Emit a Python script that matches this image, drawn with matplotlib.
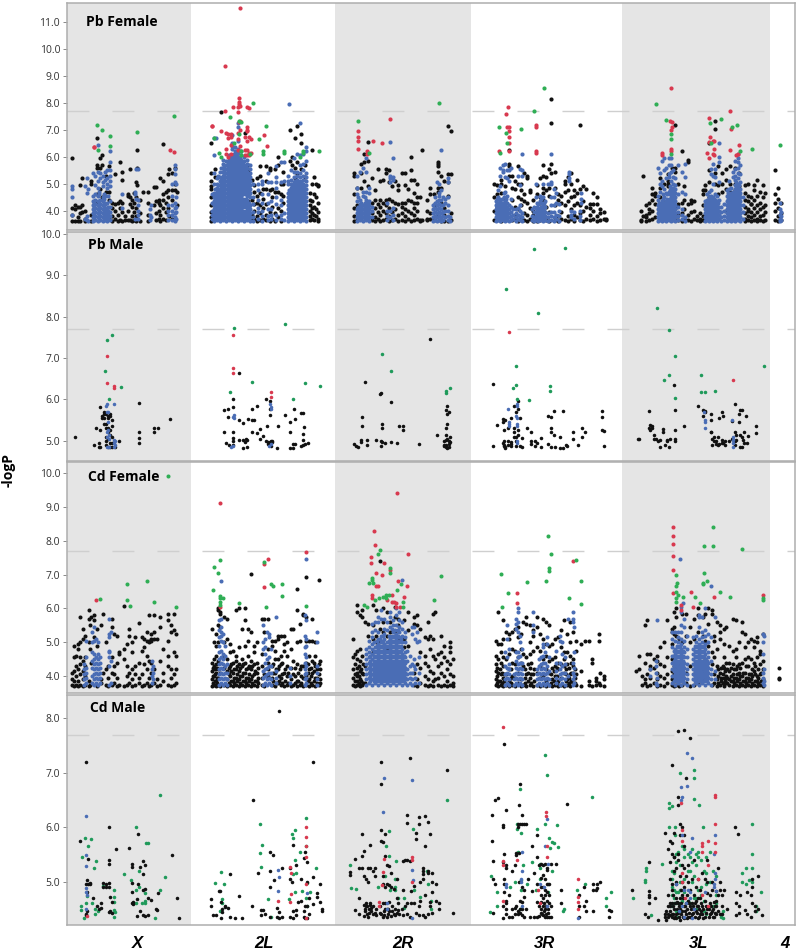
import matplotlib
matplotlib.use("Agg")
import matplotlib.pyplot as plt

plt.rcParams["font.family"] = ["Open Sans", "DejaVu Sans"]

# x is the position along the genome (arbitrary units), y is -logP
# every list holds (position, [values at that position])

# ---- Pb Female
pbf_black = [
    (72, [3.6, 3.85, 4.1, 5.97]), (75, [3.6, 4.05, 4.2]), (78, [3.6, 3.75, 4.15]), (80, [3.6, 3.9, 4.15, 4.95]),
    (82, [3.95, 4.2, 5.2]), (85, [3.6, 3.7, 4.0]), (91, [3.6, 3.85, 5.0, 5.1]), (97, [4.3, 4.6, 5.6, 5.7, 6.7]),
    (100, [4.8, 5.6, 5.97]), (102, [4.5, 5.7, 6.05]), (106, [4.7, 5.3]), (109, [3.7, 4.4, 4.7, 5.65]),
    (112, [3.6, 3.8, 4.1, 4.3]), (115, [3.7, 4.0, 4.25, 5.35]), (118, [3.6, 3.85, 4.3]), (120, [3.65, 4.1, 4.35, 5.8]),
    (122, [3.6, 3.95, 4.3, 5.15, 5.42]), (125, [3.65, 3.8]), (128, [3.65, 4.0, 4.55, 4.6]), (130, [3.65, 4.25, 4.5, 5.55]),
    (132, [3.6, 3.8, 4.15, 4.4]), (134, [3.65, 3.95, 4.3, 4.65]), (136, [3.6, 3.8, 4.1, 4.5, 5.05]),
    (137, [4.95, 5.6, 6.25]), (140, [3.6, 3.9, 4.4]), (143, [4.7]), (148, [3.6, 3.85, 4.3, 4.7]),
    (154, [4.2, 4.87]), (156, [3.65, 3.9, 4.35, 4.87]), (159, [3.7, 4.0, 4.3, 4.4]), (160, [3.6, 3.85, 4.2, 5.2]),
    (163, [3.7, 4.1, 4.4, 4.6, 5.1, 6.48]), (166, [3.65, 3.95, 4.3, 4.7]), (168, [4.1, 4.5, 4.75, 5.35]),
    (169, [3.8, 5.55]), (172, [3.7, 4.4, 4.75, 5.4]), (175, [4.75, 5.0, 5.6]), (177, [4.2, 4.7]),
    (211, [3.6, 3.75, 3.95, 4.2, 4.5, 4.8, 4.9, 5.1, 5.4, 6.5]), (215, [4.1, 5.25, 5.55]), (221, [7.67]),
    (245, [6.88]), (248, [5.5, 5.7, 3.9, 4.35]), (252, [3.65, 3.85, 4.4, 5.15]), (254, [3.7, 4.0, 4.25, 4.7, 4.95]),
    (257, [3.6, 3.8, 4.3, 4.55, 5.2]), (260, [3.65, 3.9, 4.2, 4.65, 5.3, 5.65]), (263, [3.7, 4.1, 4.45, 4.8]),
    (266, [3.65, 3.85, 4.25, 4.8, 5.1, 5.65]), (270, [3.6, 3.95, 4.75, 5.5, 5.6]), (272, [3.7, 4.15, 4.5, 4.8]),
    (275, [3.6, 3.9, 4.7, 5.55]), (278, [3.75, 4.1, 4.7, 5.7, 6.0]), (281, [3.6, 4.0, 4.6, 5.0]),
    (283, [4.3, 4.55, 5.0, 5.45]), (290, [5.85, 7.0]), (292, [5.7, 6.0]), (295, [5.6, 5.2, 6.7]),
    (297, [5.35, 5.8, 7.15]), (301, [5.55, 6.5, 6.85]), (305, [5.25, 5.7]), (310, [3.65, 3.8, 4.0, 4.2, 4.4, 4.65]),
    (312, [3.7, 3.9, 4.1, 4.35, 5.0, 6.25]), (314, [3.65, 3.85, 4.15, 4.6, 5.25]), (316, [3.8, 4.05, 4.5, 5.0]),
    (318, [3.6, 3.7, 3.95, 4.3, 4.9, 4.95]),
    (354, [3.6, 3.8, 4.1, 4.6, 5.3, 5.4]), (357, [3.65, 4.2, 4.85]), (361, [4.85, 5.75, 5.4]), (364, [5.1, 5.8, 6.1]),
    (368, [4.9, 6.55, 5.85]), (372, [3.65, 3.9, 4.3, 5.2]), (375, [3.6, 3.75, 4.1, 4.4, 4.75]),
    (378, [3.7, 3.95, 4.25, 5.55]), (380, [3.6, 3.85, 4.15, 4.4, 5.1]), (383, [3.65, 4.0, 4.3, 5.15]),
    (386, [3.7, 3.9, 4.2, 4.4, 5.55, 5.4]), (389, [3.6, 3.8, 4.1, 4.45, 5.05, 5.5]), (392, [3.65, 3.95, 4.35, 4.9]),
    (395, [3.7, 4.05, 4.3, 5.1]), (398, [3.6, 3.85, 4.25, 4.75, 4.95]), (402, [3.65, 3.9, 4.15, 4.3, 5.4]),
    (405, [3.6, 3.8, 4.05, 4.3, 4.95, 5.4]), (408, [3.7, 4.0, 4.4, 4.8]), (411, [3.6, 3.9, 4.35, 5.15, 6.0, 5.5]),
    (414, [3.65, 3.85, 4.1, 4.3, 4.65, 5.15]), (417, [3.7, 4.0, 4.3, 4.5, 5.0]), (420, [3.6, 3.65, 4.5]),
    (422, [3.65, 6.25]), (427, [3.65, 3.7, 4.0, 4.4]), (430, [3.7, 3.9, 4.6, 4.85]), (434, [3.65, 4.2, 4.6]),
    (438, [3.8, 4.7, 5.45, 5.75, 5.8, 5.65, 4.85]), (441, [3.6, 4.3, 4.85, 5.3]), (444, [3.6, 3.85, 4.1, 5.1]),
    (448, [3.6, 4.55, 5.05, 5.35, 7.15]), (451, [3.65, 3.9, 5.35, 6.95]),
    (494, [3.65, 4.0, 4.5, 5.0]), (497, [3.7, 4.15, 4.6, 4.95]), (501, [3.6, 3.95, 4.65, 5.0, 5.15]),
    (505, [4.45, 4.9]), (509, [5.3, 5.65, 5.75, 6.25]), (512, [3.65, 4.4, 4.85, 5.3]), (515, [3.7, 3.85, 4.15, 4.8, 5.1]),
    (518, [3.6, 4.05, 4.5, 5.0, 5.65]), (521, [3.7, 4.2, 4.45, 4.75, 5.0]), (524, [3.65, 3.9, 4.35, 4.6, 5.4]),
    (527, [3.6, 3.85, 4.3, 5.3, 5.2]), (530, [3.7, 4.1, 4.7, 4.75]), (533, [3.6, 3.85, 4.0, 4.4]),
    (537, [3.6, 3.75, 4.1, 4.6, 4.95]), (540, [3.65, 3.9, 4.3, 4.5, 5.2]), (543, [3.7, 4.0, 4.4, 4.65, 4.85, 5.3, 5.7]),
    (546, [3.65, 4.15, 4.75, 5.25]), (549, [3.6, 3.95, 4.55, 4.85, 5.55]), (551, [5.75, 5.4, 7.25, 8.15]),
    (555, [3.65, 4.2, 4.85, 5.45]), (558, [3.6, 3.8, 4.4, 4.6]), (561, [3.7, 3.95, 4.3, 4.55]),
    (565, [3.65, 4.2, 4.7, 5.0, 5.1]), (568, [3.6, 3.8, 4.35, 4.75, 5.25]), (571, [3.7, 4.05, 4.5, 5.0, 5.4]),
    (574, [3.6, 3.85, 4.2, 4.55, 4.75]), (577, [3.75, 4.3, 4.65, 5.15]), (580, [3.65, 3.9, 4.2, 4.8, 7.2]),
    (583, [3.6, 4.0, 4.35, 4.9]), (586, [3.7, 4.15, 4.8]), (590, [3.65, 3.85, 4.1, 4.25]), (593, [3.7, 4.0, 4.25, 4.65]),
    (597, [3.6, 3.8, 4.25, 4.5]), (600, [3.65, 3.9, 4.05]), (604, [3.7, 3.95]), (606, [3.65, 3.7]),
    (641, [3.6, 3.65, 4.0]), (643, [3.8, 5.3]), (646, [3.6, 3.75, 3.85, 4.2]), (649, [3.65, 3.9, 4.3, 4.05]),
    (652, [3.7, 4.0, 4.4, 4.6, 4.85]), (655, [3.75, 4.55, 4.25, 4.65]), (660, [4.5, 4.85, 5.2]), (664, [4.3, 5.0]),
    (668, [4.9, 5.0, 5.1, 5.35]), (672, [5.6, 4.7, 4.3]), (675, [3.7, 4.1, 5.6, 5.45, 7.2]), (678, [3.65, 3.85, 4.25, 5.0]),
    (682, [3.6, 3.9, 4.3, 6.23]), (684, [3.7, 4.05, 4.4, 4.9]), (688, [3.65, 3.85, 4.25, 5.9, 5.8]),
    (691, [3.6, 3.95, 4.3, 4.4]), (694, [3.7, 4.0, 4.35]), (697, [3.65, 3.8]), (700, [3.6, 3.7, 3.9]),
    (703, [3.65, 3.8, 4.2, 4.6, 4.75]), (705, [4.75, 4.95]), (709, [6.5, 5.5, 5.05, 4.5]), (715, [7.35, 7.05, 5.4, 5.0]),
    (718, [5.65, 4.95, 4.6]), (722, [5.4, 5.0, 4.7]), (726, [5.55, 5.15, 4.8, 4.0]), (730, [5.65, 5.0, 4.7]),
    (735, [5.0, 5.6, 4.75, 3.75]), (739, [4.9, 5.4, 4.6]), (745, [3.6, 3.7, 3.9, 4.15, 4.4, 4.65, 4.95]),
    (748, [3.65, 3.8, 4.05, 4.35, 4.55, 5.0, 4.0]), (751, [3.6, 3.75, 3.95, 4.25, 4.5, 4.25]), (754, [3.65, 3.85, 4.1, 4.4, 4.75, 4.95]),
    (757, [3.6, 3.7, 3.95, 4.2, 4.55, 5.15]), (760, [3.65, 3.8, 4.05, 4.3, 4.7]), (763, [3.6, 3.85, 4.15, 4.5, 4.95]),
    (765, [3.65, 3.95, 4.2, 4.65]),
    (775, [3.65, 4.0, 4.3, 4.6, 5.5]), (778, [3.6, 3.8, 4.1, 4.45, 4.85]), (781, [3.65, 3.9, 4.3]),
]
pbf_blue = [
    (72, [3.85, 4.5, 4.8, 4.9]), (85, [3.7, 4.9]), (87, [3.65, 3.8, 5.2, 4.65]), (88, [3.6, 4.8]),
    (93, [3.6, 3.75, 3.9, 4.05, 4.2, 4.35, 4.55, 5.4]), (95, [3.65, 3.8, 3.95, 4.1, 4.25, 4.4, 4.6, 4.95, 5.3]),
    (98, [3.6, 3.75, 3.9, 4.05, 4.2, 4.35, 4.55, 4.85, 5.1, 5.45, 6.45]), (100, [3.65, 3.8, 3.95, 4.1, 4.25, 4.4, 5.2, 5.4]),
    (103, [3.6, 3.75, 3.9, 4.05, 4.2, 4.35, 4.5, 4.9, 5.05, 5.3]), (105, [3.65, 3.8, 3.95, 4.1, 4.25, 4.55, 5.15, 5.45]),
    (107, [3.6, 3.75, 3.9, 4.05, 4.3, 4.85, 5.0, 5.2, 5.5]), (110, [3.65, 3.8, 3.95, 4.15, 4.35, 4.9, 5.1, 5.3, 5.5, 5.8, 6.2]),
    (122, [4.6, 4.1]), (135, [4.6, 4.7, 3.7]), (136, [5.55, 4.45]), (138, [3.7, 3.85, 4.0, 4.2, 4.4, 5.55]),
    (150, [3.65, 3.85, 4.05]), (151, [3.75, 4.2]), (168, [3.65, 3.85, 4.0, 4.2]), (172, [3.65, 3.85, 4.0, 4.2, 4.55, 5.0]),
    (175, [3.6, 3.75, 3.9, 4.1, 4.3, 5.05, 5.35, 5.55, 5.7]), (176, [3.7, 3.95, 4.15, 4.5, 5.0]),
    (214, [3.6, 3.75, 3.9, 4.05, 4.2, 4.35, 4.5, 4.65, 5.4, 5.0]),
    (217, [3.65, 3.8, 3.95, 4.1, 4.25, 4.4, 4.55, 4.7, 4.85, 5.0, 5.2]),
    (220, [3.6, 3.75, 3.9, 4.05, 4.2, 4.35, 4.5, 4.65, 4.8, 4.95, 5.1, 5.25, 5.45]),
    (223, [3.65, 3.8, 3.95, 4.1, 4.25, 4.4, 4.55, 4.7, 4.85, 5.0, 5.15, 5.3, 5.45, 5.6, 5.75, 5.9]),
    (226, [3.6, 3.75, 3.9, 4.05, 4.2, 4.35, 4.5, 4.65, 4.8, 4.95, 5.1, 5.25, 5.4, 5.55, 5.7, 5.85]),
    (229, [3.65, 3.8, 3.95, 4.1, 4.25, 4.4, 4.55, 4.7, 4.85, 5.0, 5.15, 5.3, 5.45, 5.6, 5.75, 5.9, 6.05]),
    (232, [3.6, 3.75, 3.9, 4.05, 4.2, 4.35, 4.5, 4.65, 4.8, 4.95, 5.1, 5.25, 5.4, 5.55, 5.7, 5.85, 6.05, 6.3, 6.5]),
    (235, [3.65, 3.8, 3.95, 4.1, 4.25, 4.4, 4.55, 4.7, 4.85, 5.0, 5.15, 5.3, 5.45, 5.6, 5.75, 5.9, 6.05, 6.2, 6.35]),
    (238, [3.6, 3.75, 3.9, 4.05, 4.2, 4.35, 4.5, 4.65, 4.8, 4.95, 5.1, 5.25, 5.4, 5.55, 5.7, 5.85, 6.0, 6.15, 6.3, 6.6, 7.1, 7.25]),
    (241, [3.65, 3.8, 3.95, 4.1, 4.25, 4.4, 4.55, 4.7, 4.85, 5.0, 5.15, 5.3, 5.45, 5.6, 5.75, 5.9, 6.05, 6.2]),
    (244, [3.6, 3.75, 3.9, 4.2, 4.35, 4.65, 4.8, 4.95, 5.1, 5.25, 5.4, 5.55, 5.7, 5.85, 6.0]),
    (247, [3.65, 3.8, 3.95, 4.1, 4.25, 4.4, 4.55, 4.7, 4.85, 5.0, 5.15, 5.3, 5.45, 5.6, 5.75, 5.9]),
    (250, [3.6, 3.75, 3.9, 4.05, 4.2, 4.5, 4.65, 4.8, 4.95, 5.1, 5.25, 5.4, 5.55, 5.7]),
    (253, [3.6, 3.75, 3.95, 4.25, 4.5, 5.0]), (258, [3.7, 3.95, 4.1, 4.4, 4.75, 5.0]), (262, [3.6, 3.8, 4.0, 4.3, 4.6, 5.0, 5.1]),
    (268, [3.65, 3.8, 4.05, 4.3, 4.6, 5.05, 5.4]), (271, [3.7, 3.85, 4.05, 4.35, 5.05]), (276, [3.65, 3.85, 4.25, 4.5, 4.85, 5.05, 5.25, 5.65]),
    (281, [3.7, 3.85, 4.2, 4.4, 5.05, 5.8]), (284, [3.65, 3.9, 5.1, 5.8]),
    (288, [3.6, 3.75, 3.9, 4.05, 4.2, 4.35, 4.5, 4.65, 5.1, 5.0, 5.3]),
    (291, [3.65, 3.8, 3.95, 4.1, 4.25, 4.4, 4.55, 4.7, 4.85, 5.0, 5.15, 5.5]),
    (294, [3.6, 3.75, 3.9, 4.05, 4.2, 4.35, 4.5, 4.65, 4.8, 4.95, 5.05, 5.25, 5.45, 5.95]),
    (297, [3.65, 3.8, 3.95, 4.1, 4.25, 4.4, 4.55, 4.7, 4.85, 5.0, 5.15, 5.3, 5.45, 6.1]),
    (300, [3.6, 3.75, 3.9, 4.05, 4.2, 4.35, 4.5, 4.65, 4.8, 4.95, 5.1, 5.25, 5.4, 5.7, 6.05, 7.25]),
    (303, [3.65, 3.8, 3.95, 4.1, 4.25, 4.4, 4.55, 4.7, 4.85, 5.0, 5.15, 5.3, 5.5, 5.75, 6.1]),
    (306, [3.6, 3.75, 3.9, 4.05, 4.2, 4.35, 4.5, 4.65, 4.8, 4.95, 5.1, 5.25, 5.4, 5.85, 6.35, 6.2]),
    (289, [7.97]), (214, [6.05, 6.7]), (216, [6.7]), (232, [6.8, 6.4]),
    (357, [3.6, 3.75, 3.9, 4.05, 4.35, 4.6, 4.85, 5.3]), (360, [3.65, 3.8, 3.95, 4.1, 4.25, 4.4, 5.45]),
    (363, [3.6, 3.75, 3.9, 4.05, 4.2, 4.55, 4.7, 5.6]), (366, [3.65, 3.8, 3.95, 4.1, 4.25, 4.4, 4.7, 5.45, 5.95]),
    (369, [3.6, 3.75, 3.9, 4.05, 4.2, 4.35, 4.65, 4.85]), (372, [3.75, 4.0, 4.15]), (387, [3.65, 3.8, 4.0, 4.3]),
    (390, [3.75, 4.0, 5.2, 5.05, 5.3, 6.55]), (393, [3.65, 3.85, 4.1, 5.15, 5.25, 5.95]),
    (433, [3.6, 3.75, 3.9, 4.05, 4.2]), (435, [3.65, 3.8, 3.95, 4.1, 4.3, 4.5]), (437, [3.6, 3.75, 3.9, 4.05, 4.2, 4.35, 5.05]),
    (439, [3.65, 3.8, 3.95, 4.1, 4.25, 4.4, 4.55, 4.65, 5.0]), (441, [3.6, 3.75, 3.9, 4.05, 4.2, 4.4, 4.75, 6.25]),
    (443, [3.65, 3.8, 3.95, 4.2, 4.5]), (445, [3.75, 4.0, 4.3, 4.45]), (448, [3.65, 3.8, 4.0, 4.2, 4.5, 5.05, 5.2]), (450, [3.6, 3.75]),
    (496, [3.6, 3.75, 3.9, 4.05, 4.2, 4.35]), (498, [3.65, 3.8, 3.95, 4.1, 4.3, 4.5, 4.75]),
    (500, [3.6, 3.75, 3.9, 4.05, 4.2, 4.4, 4.9, 5.3, 5.6]), (503, [3.65, 3.8, 3.95, 4.1, 4.25, 5.45, 5.7, 5.5]),
    (505, [3.6, 3.75, 3.9, 4.05, 4.2, 4.35, 4.7, 5.25, 5.75]), (507, [3.65, 3.8, 3.95, 4.1, 4.3, 4.55, 5.2, 5.5]),
    (509, [3.6, 3.75, 3.9, 4.05, 4.2, 5.1, 5.5]), (511, [3.65, 3.8, 3.95, 4.15, 4.45, 5.6]),
    (513, [3.7, 3.85, 4.05]), (516, [3.6, 3.75, 3.9, 4.05]), (518, [3.7, 3.85, 4.1, 5.3]), (520, [3.65, 3.8, 4.0, 4.2, 4.95, 5.55]),
    (522, [3.6, 3.75, 3.9, 5.5, 6.1, 5.3]), (532, [3.65, 3.8, 4.05]), (534, [3.6, 3.75, 3.95, 4.15]),
    (536, [3.65, 3.8, 3.95, 4.1, 4.5, 5.0]), (538, [3.6, 3.75, 3.9, 4.05, 4.25]), (540, [3.65, 3.8, 3.95, 4.1, 4.35, 4.55]),
    (543, [3.6, 3.75, 3.9, 4.05, 4.2, 4.5, 5.0]), (545, [3.65, 3.8, 3.95, 4.15, 4.35]), (548, [3.6, 3.75, 3.9, 5.0]),
    (551, [3.65, 3.8, 3.95, 4.2, 4.5, 5.0, 5.05, 6.1]), (554, [3.6, 3.75, 3.95, 4.2, 4.5, 4.8]), (556, [3.7, 3.85, 4.3, 4.65]),
    (559, [3.6, 3.8, 4.0, 4.25]), (569, [5.45, 5.35, 5.2, 5.1]), (571, [3.75, 3.85, 4.0]), (574, [3.7, 3.95]),
    (580, [3.65, 3.8, 4.0]), (581, [4.45, 4.3, 4.65]),
    (658, [3.6, 3.75, 3.9, 4.05, 4.2, 4.4, 4.55, 5.6]), (660, [3.65, 3.8, 3.95, 4.1, 4.25, 4.7, 5.4, 5.0]),
    (662, [3.6, 3.75, 3.9, 4.05, 4.2, 4.35, 4.9, 5.1, 5.85]), (664, [3.65, 3.8, 3.95, 4.1, 4.25, 4.5, 4.8, 5.5, 5.95]),
    (666, [3.6, 3.75, 3.9, 4.05, 4.2, 4.35, 4.65, 5.6, 5.2]), (669, [3.65, 3.8, 3.95, 4.1, 4.25, 4.4, 4.7, 5.35, 5.25, 5.95, 5.7]),
    (671, [3.6, 3.75, 3.9, 4.05, 4.2, 4.35, 4.5, 4.65, 4.8, 5.1, 5.45, 5.7, 5.95]),
    (673, [3.65, 3.8, 3.95, 4.1, 4.25, 4.4, 4.55, 4.7, 4.85, 5.0, 5.25, 5.5]),
    (675, [3.6, 3.75, 3.9, 4.05, 4.2, 4.35, 4.5, 4.65, 4.8, 4.95, 5.2]), (678, [3.65, 3.8, 3.95, 4.15, 4.6, 5.7]),
    (682, [3.7, 3.85, 4.05, 4.7, 5.45]), (685, [3.6, 3.75, 4.6, 5.25, 5.75]), (705, [3.6, 3.75, 3.9, 4.05, 4.2, 4.35]),
    (707, [3.65, 3.8, 3.95, 4.1, 4.25, 4.4, 4.6]), (709, [3.6, 3.75, 3.9, 4.05, 4.2, 4.35, 4.5, 4.7]),
    (711, [3.65, 3.8, 3.95, 4.1, 4.25, 4.4, 4.55, 4.75, 5.35, 5.55]), (713, [3.6, 3.75, 3.9, 4.05, 4.2, 4.35, 4.5, 5.0, 5.3, 5.75]),
    (715, [3.65, 3.8, 3.95, 4.1, 4.25, 4.4, 4.6, 5.25, 5.55]), (717, [3.6, 3.75, 3.9, 4.05, 4.2, 4.35, 4.55]),
    (719, [3.7, 3.85, 4.0, 4.4, 5.8, 6.0, 6.5, 5.05]), (721, [3.6, 3.75, 3.95, 4.15]), (724, [3.65, 3.8, 4.0, 4.25]),
    (727, [3.6, 3.75, 3.9, 4.05, 4.2, 4.35, 4.55, 4.75]), (729, [3.65, 3.8, 3.95, 4.1, 4.25, 4.4, 4.55, 4.8, 5.1]),
    (731, [3.6, 3.75, 3.9, 4.05, 4.2, 4.35, 4.5, 4.65, 4.85]), (733, [3.65, 3.8, 3.95, 4.1, 4.25, 4.4, 4.55, 4.7, 5.25, 5.45]),
    (735, [3.6, 3.75, 3.9, 4.05, 4.2, 4.35, 4.5, 4.65, 4.8, 4.95, 5.15, 5.3, 5.55, 5.85]),
    (738, [3.65, 3.8, 3.95, 4.1, 4.25, 4.4, 4.55, 4.7, 4.85, 5.0, 5.2, 5.4, 5.6, 5.8, 5.95, 6.1]),
    (740, [3.6, 3.75, 3.9, 4.05, 4.2, 4.35, 4.5, 4.65, 4.8, 5.05, 5.35, 5.7]), (743, [3.7, 3.95, 4.2, 4.5]),
    (780, [3.6, 3.7, 3.85, 4.05, 4.3]), (781, [3.65, 3.8, 3.95]),
]
# the dense blue peaks need more points between the columns above
pbf_blue_fill = [
    (212, [3.7, 3.85, 4.0, 4.3, 4.6]), (215, [3.7, 3.85, 4.0, 4.15, 4.3, 4.45, 4.6, 4.8]), (218, [3.7, 3.85, 4.0, 4.15, 4.3, 4.45, 4.6, 4.75, 4.95, 5.3]),
    (221, [3.7, 3.85, 4.0, 4.15, 4.3, 4.45, 4.6, 4.75, 4.9, 5.05, 5.2, 5.6]), (224, [3.7, 3.85, 4.0, 4.15, 4.3, 4.45, 4.6, 4.75, 4.9, 5.05, 5.2, 5.35, 5.5, 5.65]),
    (228, [3.7, 3.85, 4.0, 4.15, 4.3, 4.45, 4.6, 4.75, 4.9, 5.05, 5.2, 5.35, 5.5, 5.65, 5.8]), (231, [3.7, 3.85, 4.0, 4.15, 4.3, 4.45, 4.6, 4.75, 4.9, 5.05, 5.2, 5.35, 5.5, 5.65, 5.8, 5.95]),
    (234, [3.7, 3.85, 4.0, 4.15, 4.3, 4.45, 4.6, 4.75, 4.9, 5.05, 5.2, 5.35, 5.5, 5.65, 5.8, 5.95, 6.1]), (237, [3.7, 3.85, 4.0, 4.15, 4.3, 4.45, 4.6, 4.75, 4.9, 5.05, 5.2, 5.35, 5.5, 5.65, 5.8, 5.95, 6.1]),
    (240, [3.7, 3.85, 4.0, 4.15, 4.3, 4.45, 4.6, 4.75, 4.9, 5.05, 5.2, 5.35, 5.5, 5.65, 5.8, 5.95]), (243, [3.7, 3.85, 4.0, 4.15, 4.3, 4.45, 4.6, 4.75, 4.9, 5.05, 5.2, 5.35, 5.5, 5.65, 5.8]),
    (246, [3.7, 3.85, 4.0, 4.15, 4.3, 4.45, 4.6, 4.75, 4.9, 5.05, 5.2, 5.35, 5.5, 5.65]), (249, [3.7, 3.85, 4.0, 4.15, 4.3, 4.6, 4.75, 4.9, 5.05, 5.2, 5.35]),
    (289, [3.7, 3.85, 4.0, 4.15, 4.3, 4.45, 4.6, 4.75]), (292, [3.7, 3.85, 4.0, 4.15, 4.3, 4.45, 4.6, 4.75, 4.9]), (295, [3.7, 3.85, 4.0, 4.15, 4.3, 4.45, 4.6, 4.75, 4.9, 5.1]),
    (298, [3.7, 3.85, 4.0, 4.15, 4.3, 4.45, 4.6, 4.75, 4.9, 5.05]), (301, [3.7, 3.85, 4.0, 4.15, 4.3, 4.45, 4.6, 4.75, 4.9, 5.05]), (304, [3.7, 3.85, 4.0, 4.15, 4.3, 4.45, 4.6, 4.75, 4.9]),
    (94, [3.7, 3.85, 4.0, 4.15, 4.3]), (99, [3.7, 3.85, 4.0, 4.15, 4.3, 4.6, 4.7]), (104, [3.7, 3.85, 4.0, 4.15, 4.3, 4.45, 4.6]), (108, [3.7, 3.85, 4.0, 4.15, 4.55]),
    (358, [3.7, 3.85, 4.0, 4.15, 4.5]), (361, [3.7, 3.85, 4.0, 4.15, 4.3]), (365, [3.7, 3.85, 4.0, 4.15, 4.3, 4.5]), (368, [3.7, 3.85, 4.0, 4.15, 4.3]),
    (497, [3.7, 3.85, 4.0, 4.15, 4.3, 4.45]), (499, [3.7, 3.85, 4.0, 4.15, 4.3, 4.45]), (502, [3.7, 3.85, 4.0, 4.15, 4.3, 4.45]), (504, [3.7, 3.85, 4.0, 4.15, 4.3, 4.5, 4.65]), (506, [3.7, 3.85, 4.0, 4.15, 4.3, 4.45]),
    (537, [3.7, 3.85, 4.0, 4.15, 4.3]), (541, [3.7, 3.85, 4.0, 4.15, 4.3, 4.45]), (544, [3.7, 3.85, 4.0, 4.15, 4.3]),
    (659, [3.7, 3.85, 4.0, 4.15, 4.3]), (663, [3.7, 3.85, 4.0, 4.15, 4.3, 4.45, 4.6]), (667, [3.7, 3.85, 4.0, 4.15, 4.3, 4.45, 4.6]), (670, [3.7, 3.85, 4.0, 4.15, 4.3, 4.45, 4.6, 4.75, 4.9]), (674, [3.7, 3.85, 4.0, 4.15, 4.3, 4.45, 4.6, 4.75]),
    (706, [3.7, 3.85, 4.0, 4.15, 4.3]), (710, [3.7, 3.85, 4.0, 4.15, 4.3, 4.45]), (714, [3.7, 3.85, 4.0, 4.15, 4.3, 4.45]), (718, [3.7, 3.85, 4.0, 4.15, 4.3]),
    (728, [3.7, 3.85, 4.0, 4.15, 4.3, 4.45, 4.65]), (732, [3.7, 3.85, 4.0, 4.15, 4.3, 4.45, 4.6]), (736, [3.7, 3.85, 4.0, 4.15, 4.3, 4.45, 4.6, 4.75, 4.9, 5.05]), (739, [3.7, 3.85, 4.0, 4.15, 4.3, 4.45, 4.6, 4.75, 4.95]),
]
pbf_red = [
    (94, [6.38, 6.35]), (170, [6.25]), (174, [6.17]), (212, [7.15]), (225, [9.37]), (225, [7.7]), (240, [11.55]),
    (212, [7.15]), (221, [6.95]), (226, [6.9, 6.3, 6.1]), (228, [6.7, 6.85, 6.0]), (231, [6.75, 6.85, 6.45, 6.1]),
    (233, [7.85]), (238, [7.65, 7.85, 6.9, 6.65, 6.25]), (239, [8.18, 8.05, 7.95, 7.3]), (240, [7.9, 7.35, 7.0, 6.4]),
    (245, [6.75, 6.25, 6.05]), (247, [7.1, 7.85, 7.0, 6.95, 6.6, 6.25, 6.05]), (249, [7.8, 6.75, 6.15, 6.05]),
    (251, [6.65, 6.15]), (264, [6.8]), (267, [6.4]), (358, [6.95, 6.75, 6.6, 6.3]), (373, [6.6]), (382, [6.5]),
    (367, [6.1, 6.2]), (390, [7.4]),
    (508, [7.85]), (506, [7.6]), (507, [7.1]), (509, [7.1, 6.95, 6.75, 6.5, 6.2]), (499, [6.2]), (536, [7.2, 7.1, 6.2, 6.15]),
    (671, [8.55, 6.3, 6.2]), (670, [7.35]), (672, [7.3, 7.1]), (671, [7.0]), (662, [6.15, 6.05]),
    (709, [7.45, 6.55, 5.95]), (730, [7.7, 6.25]), (731, [7.05]), (710, [6.75]), (713, [6.6, 6.1]), (714, [6.6, 6.3, 6.05]),
    (707, [6.15]), (739, [6.45]), (738, [6.1]), (736, [6.05]),
]
pbf_green = [
    (97, [7.2]), (102, [7.0]), (110, [6.78, 6.42]), (98, [6.25]), (137, [6.93]), (174, [7.52]), (253, [8.0]), (230, [7.5]),
    (214, [6.7]), (219, [6.15]), (221, [6.0]), (234, [6.5]), (239, [7.35, 6.85]), (241, [7.3]), (241, [6.2, 6.05]),
    (250, [6.1]), (259, [6.65]), (266, [7.15]), (263, [6.2, 6.1]), (284, [6.15, 6.2]), (300, [6.0]), (303, [6.2, 6.15]),
    (319, [6.2]), (358, [7.35]), (369, [6.15]), (439, [8.0]),
    (499, [7.1]), (500, [6.15]), (506, [6.9]), (507, [6.5]), (521, [7.05]), (534, [7.7]), (544, [8.55]),
    (656, [7.95]), (666, [7.36]), (671, [6.85, 6.65, 6.1]), (721, [7.4]), (710, [7.25]), (732, [7.1]), (737, [7.2]),
    (711, [6.5]), (740, [6.2]), (752, [6.3]), (780, [6.45]),
]

# ---- Pb Male
pbm_black = [
    (75, [5.1]), (94, [4.9]), (99, [4.95, 4.85]), (96, [5.3]), (100, [5.25, 5.82, 4.85]), (102, [5.6, 5.55]),
    (104, [5.7, 5.65, 5.55, 5.4]), (106, [5.65, 5.4, 5.3, 5.1, 5.0, 4.9]), (108, [5.6, 5.55, 5.3, 5.2, 5.05, 4.85]),
    (110, [5.65, 5.6, 5.25, 5.15, 4.95, 4.85]), (112, [5.5, 5.35, 5.1, 4.95, 4.85]), (119, [5.0]), (115, [4.85]),
    (139, [5.92, 5.2, 5.07, 4.95]), (154, [5.32, 5.22]), (158, [5.3]), (170, [5.52]),
    (224, [5.75, 5.22]), (228, [5.78, 5.58]), (226, [4.95]), (229, [4.9]), (233, [6.0, 5.82, 5.2, 5.07, 5.0, 4.9]),
    (239, [6.65, 5.5, 5.02]), (243, [5.42, 5.02, 4.83]), (245, [4.97]), (247, [5.02, 4.86]), (246, [5.05]), (248, [5.52]),
    (252, [5.77, 5.5, 5.2]), (254, [5.5]), (257, [5.85, 5.18]), (260, [5.28, 5.05]), (263, [5.12]), (266, [6.02, 5.0]),
    (267, [5.35]), (268, [4.93, 4.97]), (270, [5.95, 5.78, 5.62, 4.95, 4.97]), (271, [5.0, 4.88]), (272, [4.97, 5.0]),
    (278, [5.35]), (277, [4.83]), (285, [5.62]), (290, [5.45, 5.2, 4.83]), (293, [4.83, 4.93]), (295, [5.53, 4.93]),
    (294, [5.78]), (301, [5.67, 4.88]), (303, [5.68, 4.9, 5.17, 5.03]), (304, [5.33]), (305, [4.92]), (308, [4.95]),
    (354, [4.92]), (356, [4.88]), (358, [4.85]), (361, [5.03, 4.98]), (362, [5.58, 5.35]), (365, [6.42]), (367, [5.02, 4.9]),
    (376, [5.02]), (381, [6.15, 5.0, 4.87]), (380, [6.13]), (382, [5.4, 5.3, 4.97]), (385, [4.95]), (391, [5.93, 4.96]),
    (399, [5.35]), (397, [4.95]), (403, [5.35, 5.25]), (419, [4.92]), (430, [7.47]), (437, [5.13]), (444, [4.87, 4.9, 5.0]),
    (446, [5.75, 5.3, 5.13, 5.03, 4.85, 4.9]), (447, [5.65, 5.4, 5.05, 4.83, 5.85]), (449, [5.7, 5.0, 4.93, 4.85]), (450, [5.1, 4.97]),
    (493, [6.38, 4.87]), (497, [5.38]), (503, [5.53, 4.95, 5.45]), (504, [5.25, 5.0, 4.9, 4.88]), (505, [5.5, 4.85, 4.83]),
    (508, [5.3, 5.0, 4.9]), (511, [5.55, 4.93, 4.98, 4.87]), (514, [5.85, 5.2, 5.3, 5.1]), (516, [5.7, 5.1, 5.0, 4.88]),
    (518, [5.95, 5.78, 5.25, 5.13]), (520, [5.55, 4.87]), (522, [5.07, 4.85]), (527, [5.3]), (531, [5.2, 5.0, 4.92]),
    (535, [5.0, 4.88]), (537, [4.95]), (541, [5.07, 4.85]), (548, [5.6, 4.93]), (551, [5.58, 5.3, 5.2, 4.85]),
    (554, [5.13, 5.72]), (555, [4.85]), (560, [4.83, 5.1]), (563, [5.72, 4.83]), (566, [4.9]), (567, [4.88]),
    (573, [5.05, 5.2]), (578, [4.9]), (582, [5.1, 5.32]), (585, [5.22]), (602, [5.26, 5.72, 5.57]), (604, [5.24]), (604, [4.88]),
    (638, [5.05]), (639, [5.05]), (649, [5.72, 5.3]), (650, [5.38, 5.25]), (652, [5.35, 5.3]), (654, [5.13, 5.05]), (656, [5.05]),
    (658, [5.0]), (660, [5.03, 4.85]), (663, [5.2, 5.28]), (665, [4.9]), (667, [5.0, 5.03]), (669, [4.85]), (670, [5.05]),
    (675, [5.75, 5.27, 5.05, 5.0]), (674, [6.35]), (684, [5.35]), (698, [5.85]), (703, [5.75, 5.6]), (705, [5.7, 5.72]),
    (711, [5.65, 5.5, 5.22, 5.2]), (712, [5.05, 4.9]), (714, [5.1, 5.0]), (716, [4.93, 5.0]), (718, [5.1, 4.9]),
    (719, [5.55, 4.93]), (722, [5.7, 5.03, 4.95]), (723, [4.95]), (725, [5.0, 4.9]), (729, [5.0]), (723, [5.6]),
    (732, [5.47, 5.05]), (735, [5.9, 5.2, 5.0, 4.9]), (736, [5.15, 5.03]), (739, [5.65, 5.45]), (740, [5.15, 5.75, 4.85]),
    (742, [5.1, 5.75, 4.85]), (743, [5.02]), (744, [5.2, 4.95]), (746, [5.6]), (748, [5.12]), (747, [4.95]), (756, [5.35, 5.18]),
]
pbm_blue = [
    (106, [5.85]), (107, [5.88, 5.7]), (108, [5.7, 5.45, 5.25]), (109, [5.15, 5.05, 4.85]), (114, [5.88, 5.03, 4.95, 4.85]),
    (115, [5.0, 4.9]), (107, [5.2, 5.1, 4.85]), (231, [4.85]), (233, [4.88]), (234, [5.62, 5.55]), (233, [5.58]), (270, [5.88]),
    (271, [5.82, 5.78, 4.93]), (269, [4.88]), (509, [5.45, 5.4, 5.35]), (508, [5.78]), (517, [5.9, 5.85, 5.55, 5.4, 5.35, 5.0, 4.95]),
    (516, [5.6]), (705, [5.5, 5.45, 5.3]), (704, [5.7]), (733, [5.1, 5.02, 4.95, 4.85]), (732, [5.5]),
]
pbm_red = [
    (107, [7.05, 6.4]), (114, [6.32, 6.27]), (233, [7.55, 6.75, 6.63]), (271, [6.17, 6.07]), (509, [7.62]), (733, [6.48]),
]
pbm_green = [
    (112, [7.57]), (107, [7.43]), (105, [6.68]), (121, [6.3]), (109, [6.02]), (234, [7.72]), (285, [7.83]), (252, [6.43]),
    (230, [6.18]), (293, [6.0]), (305, [6.39]), (320, [6.32]), (382, [7.1]), (391, [6.68]), (450, [6.28]), (446, [6.2, 6.15]),
    (534, [9.65]), (565, [9.66]), (506, [8.66]), (538, [8.1]), (516, [6.82, 6.35]), (513, [6.28]), (517, [6.0]), (550, [6.33, 6.2]),
    (529, [5.98]), (657, [8.22]), (669, [7.68]), (675, [7.05]), (669, [6.6]), (664, [6.47]), (675, [6.03]), (701, [6.6]),
    (701, [6.19]), (705, [6.19]), (715, [6.2]), (764, [6.82]),
]

# ---- Cd Female
cdf_black = [
    (72, [3.75, 3.9, 4.1]), (74, [3.7, 3.85, 4.15, 4.55, 4.9]), (76, [3.75, 4.0, 4.3, 4.6]), (78, [3.7, 3.85, 4.2, 4.8, 4.95]),
    (80, [3.75, 4.05, 4.35, 4.55, 5.75, 5.0]), (83, [3.7, 3.9, 4.15, 4.45, 5.1, 5.4]), (85, [3.75, 4.0, 4.3, 4.55, 5.2]),
    (89, [3.7, 3.85, 5.95, 5.7, 5.0]), (90, [3.75, 5.5, 4.8]), (91, [5.75, 4.4]), (94, [5.8, 5.65, 5.15]), (97, [3.7, 5.4, 4.9]),
    (103, [5.85, 4.1]), (101, [3.8, 3.9, 5.5]), (106, [3.75, 4.2, 5.0]), (108, [3.7, 3.95, 4.3]), (112, [3.75, 4.1, 4.55, 5.45, 5.7]),
    (114, [3.8, 4.05, 4.3, 5.25]), (117, [3.7, 3.95, 4.4, 5.2]), (119, [3.75, 4.65, 4.7]), (124, [3.7, 4.5, 4.8, 6.07]),
    (127, [3.75, 4.0, 4.3, 4.95]), (129, [3.8, 4.1, 5.2, 5.4]), (132, [3.7, 3.9, 4.2, 5.0, 4.7]), (135, [3.75, 4.05, 4.3, 5.15]),
    (139, [3.8, 3.95, 4.4, 5.57]), (142, [3.7, 4.05, 4.75, 5.15]), (144, [3.75, 4.35, 4.85, 5.1]), (147, [3.8, 4.2, 5.3, 4.6, 5.05]),
    (149, [3.7, 3.95, 4.45, 5.05, 5.0, 5.8]), (151, [3.75, 4.1, 4.4, 5.1, 5.25, 5.05]), (154, [3.8, 4.2, 5.3, 5.1, 5.8]),
    (157, [3.7, 3.9, 5.1]), (160, [3.75, 4.45, 5.45, 5.75]), (163, [4.8, 3.85, 4.1]), (168, [3.75, 4.3, 4.6, 5.05, 5.85, 5.65]),
    (171, [3.7, 3.95, 4.2, 5.3, 5.5]), (174, [3.75, 4.05, 4.7, 5.35, 5.85]), (176, [3.8, 4.2, 4.6, 5.25]),
    (212, [3.7, 3.9, 4.15, 4.4, 5.4]), (214, [3.75, 4.0, 4.3, 4.5, 5.0]), (216, [3.7, 3.85, 4.1, 4.35, 4.6, 4.9, 5.25]),
    (218, [3.75, 3.95, 4.2, 4.45, 5.5, 5.95, 6.0, 5.0]), (220, [3.7, 4.1, 5.85, 5.9, 5.45]), (224, [3.75, 4.25, 4.6, 5.0, 5.75]),
    (227, [3.7, 3.9, 4.15, 4.5, 5.1, 5.7]), (230, [3.75, 4.0, 4.3, 4.7, 4.95]), (233, [3.7, 3.85, 4.1, 4.4, 4.75]),
    (236, [3.75, 3.95, 4.2, 4.45, 4.6, 5.95]), (239, [3.7, 3.9, 4.15, 4.35, 4.85, 6.0]), (242, [3.75, 4.0, 4.3, 4.5, 5.4]),
    (245, [3.7, 3.85, 4.1, 4.4, 4.9, 5.65, 6.0]), (248, [3.75, 3.95, 4.25, 4.6, 5.4, 5.05]), (251, [3.7, 3.9, 4.2, 4.45, 5.3, 7.03]),
    (254, [3.75, 4.05, 4.35, 4.9, 4.7]), (257, [3.7, 3.85, 4.1, 4.4, 5.0]), (262, [3.75, 3.95, 4.3, 4.65, 5.7]), (264, [3.7, 4.05, 5.7, 5.3]),
    (268, [4.2, 4.4, 5.7, 4.8, 4.0]), (272, [3.75, 3.95, 4.3, 4.9, 5.05]), (275, [3.7, 4.1, 4.5, 5.05, 4.75]), (278, [3.8, 4.2, 4.5, 5.2, 5.1]),
    (281, [3.75, 3.95, 4.35, 5.2, 4.6]), (284, [3.7, 4.1, 4.75, 4.95, 5.2]), (287, [3.75, 4.0, 4.3, 4.6, 5.0]),
    (291, [3.7, 3.9, 4.25, 4.8, 5.4]), (293, [3.75, 4.05, 4.45, 5.4]), (297, [3.7, 3.85, 4.35, 5.0, 5.95, 6.58]), (300, [3.75, 4.2, 5.05, 5.55]),
    (303, [3.7, 3.95, 4.3, 5.85, 5.8]), (306, [3.75, 4.0, 4.4, 5.05, 5.75, 6.93]), (309, [3.7, 3.9, 4.2, 4.6, 5.05]),
    (312, [3.75, 4.1, 4.45, 5.7, 5.05]), (315, [3.7, 3.95, 4.3, 4.6, 5.0]), (319, [3.75, 4.05, 4.35, 6.83]), (320, [3.8, 3.9, 4.2, 4.45]),
    (353, [3.75, 3.95, 4.2, 4.55, 5.1]), (355, [3.7, 3.85, 4.05, 4.35, 4.65]), (357, [3.75, 4.0, 4.25, 4.5, 4.75, 6.1, 5.9]),
    (360, [3.7, 3.9, 4.15, 4.45, 4.8, 5.8]), (362, [3.75, 4.1, 4.6, 5.75, 5.95]), (365, [3.8, 4.3, 5.6]), (368, [5.2, 5.55]),
    (373, [4.7, 5.1, 5.5, 6.1]), (376, [5.2, 5.0, 5.95]), (380, [5.4, 5.05, 7.4]), (383, [4.9, 5.3, 5.6, 6.0]), (387, [5.2, 4.8, 5.9]),
    (390, [5.3, 4.55, 5.6]), (395, [5.75, 5.3, 6.05]), (398, [4.7, 5.1, 5.5, 5.7]), (404, [4.85, 5.1, 5.65]), (408, [5.35, 4.9, 5.9]),
    (414, [3.75, 4.1, 5.55, 5.75]), (417, [3.7, 3.9, 4.35, 5.5, 5.8]), (420, [3.8, 4.25, 5.4, 4.7]), (425, [3.75, 4.0, 4.4, 4.6, 5.15]),
    (428, [3.7, 3.9, 4.3, 5.1, 5.6]), (430, [3.75, 4.15, 4.8, 5.2]), (433, [3.7, 3.85, 4.1, 4.6, 5.85, 5.1]), (435, [5.9, 4.5, 3.9]),
    (438, [3.75, 3.95, 4.3, 4.65]), (441, [3.7, 4.1, 4.4, 4.7, 5.2]), (444, [3.75, 4.0, 4.55, 4.9]), (447, [3.7, 3.85, 4.2, 4.45]),
    (450, [3.75, 4.05, 4.35, 4.7, 4.85, 5.0]), (453, [3.8, 4.0, 3.7, 4.5]),
    (496, [3.75, 3.9, 4.15, 4.35, 4.6, 5.05]), (498, [3.7, 3.85, 4.1, 4.5, 4.95, 5.9]), (501, [3.75, 4.05, 4.4, 4.7, 4.95]),
    (503, [3.7, 3.95, 4.3, 4.55, 5.1, 5.65]), (506, [3.75, 4.05, 4.5, 5.3]), (509, [3.7, 3.85, 4.2, 4.65, 5.1, 5.25]),
    (512, [3.75, 4.0, 4.4, 4.8, 5.3]), (515, [3.7, 3.95, 4.35, 4.75, 5.4]), (518, [3.8, 4.1, 4.55, 5.15, 5.45]), (521, [3.7, 3.9, 4.4, 4.8, 5.25]),
    (523, [3.75, 4.3, 4.65, 5.6]), (526, [3.7, 4.05, 4.55, 5.55, 5.75]), (530, [3.75, 3.95, 4.25, 4.65, 5.0, 5.5]), (533, [3.7, 4.05, 5.35, 5.2, 4.75]),
    (537, [3.75, 4.1, 4.85, 5.45, 5.75]), (540, [3.7, 3.95, 4.3, 4.75, 5.25]), (543, [3.75, 4.0, 4.5, 5.1, 5.7]),
    (546, [3.7, 3.85, 4.2, 4.6, 4.95, 5.6]), (549, [3.75, 4.1, 4.45, 4.9, 5.5]), (552, [3.7, 3.9, 4.25, 4.5, 4.95]),
    (555, [3.75, 4.0, 4.3, 4.55, 5.1]), (558, [3.7, 3.85, 4.2, 4.4, 5.15]), (561, [3.75, 3.95, 4.35, 4.85, 5.35]),
    (564, [3.7, 4.1, 4.3, 4.5, 4.7, 5.65]), (567, [3.75, 3.9, 4.35, 4.7, 5.25]), (570, [3.7, 4.05, 4.6, 5.0, 5.6]),
    (573, [3.8, 4.1, 4.3, 4.5, 5.3]), (576, [3.75, 4.05, 4.75, 5.05]), (581, [3.7, 4.15, 4.95]), (585, [5.05]),
    (589, [3.75, 3.85, 5.05]), (592, [3.7, 4.5, 4.4]), (596, [3.75, 3.85, 3.95]), (599, [3.8, 5.05, 5.25]), (600, [4.1, 3.75]),
    (604, [3.9, 4.0, 3.7]),
    (636, [4.15]), (639, [4.2, 4.6]), (642, [3.75, 4.0]), (645, [3.8, 3.9, 4.4, 5.5]), (647, [3.7, 4.05, 4.65, 5.65]),
    (650, [3.75, 3.95, 4.2, 4.3, 4.65]), (654, [3.8, 4.25, 4.5]), (657, [3.7, 3.9, 4.1, 4.45, 4.6]), (660, [3.75, 4.0, 4.35, 4.85]),
    (664, [3.7, 3.95, 4.3, 5.0]), (667, [3.8, 4.05, 4.55, 5.65]), (672, [3.75, 3.9, 4.15, 4.5, 4.95, 5.3, 5.4]),
    (674, [3.7, 3.85, 4.05, 4.3, 5.45, 5.9, 5.25]), (676, [3.75, 3.95, 4.2, 5.75, 6.0, 5.2]), (679, [3.7, 3.85, 4.1, 4.35, 5.1]),
    (682, [3.75, 4.0, 5.85, 5.0]), (686, [3.8, 4.1, 5.85, 5.2]), (690, [3.7, 4.3, 5.0, 5.45]), (694, [3.75, 4.05, 5.7, 5.1]),
    (698, [3.8, 3.95, 5.8, 5.3, 6.0]), (703, [3.9, 4.15, 5.2, 5.75]), (705, [4.5, 5.85, 5.05]), (708, [5.55, 4.9, 6.0]),
    (712, [3.75, 4.35, 4.7, 5.85, 5.95]), (714, [3.8, 4.05, 4.55, 5.2, 5.05]), (717, [3.7, 3.9, 4.3, 4.8, 5.6]), (720, [3.75, 4.1, 5.1, 5.3, 5.5]),
    (724, [3.7, 3.95, 4.25, 4.55, 4.95, 5.4]), (726, [3.8, 4.0, 4.4, 5.45]), (729, [3.75, 3.9, 4.15, 4.4, 4.9]),
    (733, [3.7, 3.85, 4.05, 4.35, 4.75, 5.7]), (736, [3.75, 3.95, 4.2, 4.55, 4.8, 5.65]), (739, [3.7, 3.9, 4.1, 4.35, 5.0]),
    (742, [3.75, 4.0, 4.4, 5.3, 5.6]), (745, [3.7, 3.85, 4.1, 4.5, 4.85, 5.25]), (748, [3.75, 3.95, 4.3, 4.55, 5.0]),
    (751, [3.7, 3.9, 4.05, 4.5, 5.1]), (754, [3.75, 4.15, 4.4, 5.05, 4.85]), (757, [3.7, 3.85, 4.0, 4.55, 5.0, 5.15]),
    (760, [3.75, 4.05, 4.35, 4.65, 4.75]), (763, [3.7, 3.9, 4.2, 4.45, 5.25]), (779, [4.23, 3.9, 3.93]),
]
# the low band of 2L, 3R and 3L is nearly solid black
cdf_black_fill = [
    (213, [3.8, 4.0, 4.25]), (215, [3.85, 4.05, 4.2]), (217, [3.8, 3.95, 4.25]), (229, [3.8, 4.05, 4.25]), (231, [3.85, 4.15, 4.35]),
    (234, [3.8, 3.95, 4.2]), (237, [3.85, 4.05, 4.3]), (240, [3.8, 4.0, 4.25]), (243, [3.85, 4.1, 4.35]), (246, [3.8, 3.95, 4.2]),
    (249, [3.85, 4.05, 4.3]), (252, [3.8, 4.0, 4.3]), (255, [3.85, 4.15]), (258, [3.8, 3.95, 4.25]), (273, [3.85, 4.1, 4.35]), (276, [3.8, 4.2]),
    (279, [3.85, 4.0, 4.3]), (282, [3.8, 4.05, 4.4]), (285, [3.85, 4.2]), (288, [3.8, 4.1]), (295, [3.8, 4.0, 4.25]), (298, [3.85, 4.1]),
    (301, [3.8, 4.0, 4.3]), (308, [3.85, 4.1, 4.35]), (311, [3.8, 4.0, 4.25]), (314, [3.85, 4.15, 4.4]), (317, [3.8, 3.95, 4.2]),
    (357, [3.85, 4.1]), (359, [3.8, 4.0, 4.3]), (361, [3.85, 4.2]), (363, [3.8, 4.05, 4.35]),
    (497, [3.8, 4.0, 4.25]), (500, [3.85, 4.2]), (502, [3.8, 4.1]), (504, [3.85, 4.05]), (511, [3.8, 3.95, 4.2]), (525, [3.8, 3.95, 4.2]),
    (528, [3.85, 4.1, 4.35]), (531, [3.8, 4.05, 4.4]), (534, [3.85, 4.2]), (551, [3.8, 4.05]), (554, [3.85, 4.15]), (557, [3.8, 4.0, 4.25]),
    (566, [3.85, 4.05, 4.2]), (569, [3.8, 3.95, 4.25]), (571, [3.85, 4.1, 4.4]), (575, [3.8, 3.95, 4.2]),
    (718, [3.8, 4.0, 4.2]), (721, [3.85, 3.95, 4.25]), (723, [3.8, 4.05, 4.3]), (725, [3.85, 4.15]), (727, [3.8, 3.95, 4.2]), (731, [3.85, 4.0, 4.25]),
    (734, [3.8, 3.95, 4.2]), (737, [3.85, 4.05, 4.3]), (740, [3.8, 4.0, 4.25]), (743, [3.85, 4.1]), (746, [3.8, 3.95, 4.3]), (749, [3.85, 4.05]),
    (752, [3.8, 4.0, 4.2]), (755, [3.85, 4.05, 4.3]), (758, [3.8, 3.95, 4.2]), (761, [3.85, 4.1]),
]
cdf_blue = [
    (84, [3.75, 3.9, 4.05, 4.2, 4.35]), (86, [3.8, 3.95, 4.1, 4.25, 4.55, 5.05]), (92, [3.8, 4.0, 4.25, 4.45, 4.7, 5.0, 5.3]),
    (94, [3.75, 3.9, 4.05, 4.2, 4.35, 4.5, 4.65, 5.05, 5.45]), (96, [3.8, 3.95, 4.1, 4.25, 4.4, 4.55, 5.1]), (98, [3.75, 3.9, 4.05, 4.2, 4.35, 4.5, 4.65, 5.0]),
    (100, [3.8, 3.95, 4.1, 4.25, 4.4, 4.55]), (109, [3.75, 4.3, 4.55, 4.7, 4.75, 5.15, 5.25, 5.7]), (111, [3.8, 4.45, 5.3]),
    (152, [3.8, 4.0, 4.2, 4.45]), (153, [3.9, 4.1, 4.3]),
    (219, [3.75, 3.9, 4.05, 4.2, 4.35, 4.5, 4.7, 4.9, 5.15, 5.35, 5.65]), (221, [3.8, 3.95, 4.1, 4.25, 4.4, 4.55, 4.75, 5.05, 5.2, 5.45, 5.7, 5.3, 6.8]),
    (223, [3.75, 3.9, 4.05, 4.2, 4.35, 4.5, 4.65, 5.0, 5.25]), (225, [3.8, 3.95, 4.1, 4.3, 4.6, 4.9]), (227, [3.75, 3.9, 4.1, 4.35]),
    (263, [3.75, 3.95, 4.15, 4.8, 5.0, 5.5]), (265, [3.8, 4.0, 4.2, 4.4, 4.65, 4.85, 5.1]), (267, [3.75, 3.9, 4.05, 4.25, 4.5, 5.3]),
    (269, [3.8, 3.95, 4.1, 4.3, 4.55, 5.15, 5.25]), (271, [3.75, 3.9, 4.1, 4.3, 4.8]), (276, [5.75]),
    (276, [3.8, 3.95, 4.15]), (290, [3.8, 4.0, 4.25]), (305, [3.75, 3.9, 4.05, 4.2, 4.4, 4.65, 4.85, 5.2, 5.8]), (306, [3.8, 3.95, 4.1, 4.3, 4.55, 4.9, 5.1, 5.65, 7.45]),
    (317, [3.75, 3.9, 4.1, 4.3, 5.0, 5.3]),
    (366, [3.75, 3.9, 4.05, 4.2, 4.35, 4.5, 4.65, 4.8]), (369, [3.8, 3.95, 4.1, 4.25, 4.4, 4.55, 4.7, 4.85, 5.05]),
    (372, [3.75, 3.9, 4.05, 4.2, 4.35, 4.5, 4.65, 4.8, 4.95, 5.15, 5.3, 5.55]), (375, [3.8, 3.95, 4.1, 4.25, 4.4, 4.55, 4.7, 4.85, 5.35, 5.6]),
    (378, [3.75, 3.9, 4.05, 4.2, 4.35, 4.5, 4.65, 4.8, 4.95, 5.1, 5.3, 5.6, 5.75]), (381, [3.8, 3.95, 4.1, 4.25, 4.4, 4.55, 4.7, 4.85, 5.0, 5.2, 5.7, 5.95]),
    (384, [3.75, 3.9, 4.05, 4.2, 4.35, 4.5, 4.65, 4.8, 4.95, 5.1, 5.25, 5.4, 5.7]), (387, [3.8, 3.95, 4.1, 4.25, 4.4, 4.55, 4.7, 4.85, 5.0, 5.35, 5.6]),
    (390, [3.75, 3.9, 4.05, 4.2, 4.35, 4.5, 4.65, 4.8, 4.95, 5.1, 5.45, 5.75, 5.9]), (393, [3.8, 3.95, 4.1, 4.25, 4.4, 4.55, 4.7, 4.85, 5.0, 5.15, 5.3, 5.5, 5.65]),
    (396, [3.75, 3.9, 4.05, 4.2, 4.35, 4.5, 4.65, 4.8, 4.95, 5.1, 5.25, 5.5, 5.8, 6.0]), (399, [3.8, 3.95, 4.1, 4.25, 4.4, 4.55, 4.7, 4.85, 5.0, 5.15, 5.3, 5.45, 5.65, 5.9]),
    (402, [3.75, 3.9, 4.05, 4.2, 4.35, 4.5, 4.65, 4.8, 5.0, 5.2, 5.4, 5.6, 6.85]), (405, [3.8, 3.95, 4.1, 4.25, 4.4, 4.55, 4.7, 5.0, 5.15, 5.3]),
    (407, [3.75, 3.9, 4.05, 4.2, 4.45, 4.75]), (410, [3.8, 3.95, 4.1, 4.3, 4.6]), (412, [3.75, 3.9, 4.1, 4.35, 5.25, 5.45]), (414, [5.45, 4.5, 4.3]),
    (415, [3.8, 3.95, 4.2, 5.1]), (417, [5.3, 5.0]), (419, [3.8, 4.1, 5.05, 4.55]),
    (505, [3.75, 3.9, 4.05, 4.3, 4.7]), (507, [3.8, 3.95, 4.1, 4.25, 4.55, 5.1, 5.5]), (509, [3.75, 3.9, 4.05, 4.2, 4.35, 4.8]),
    (514, [3.75, 3.9, 4.05]), (516, [3.8, 3.95, 4.1, 4.25, 4.45, 4.7, 5.7, 5.55, 5.4]), (518, [3.75, 3.9, 4.05, 4.2, 4.35, 4.55, 4.7, 5.3, 5.6, 5.9, 6.0]),
    (520, [3.8, 3.95, 4.1, 4.25, 4.4, 4.6, 5.0, 5.2]), (522, [3.75, 3.9, 4.05, 4.2, 4.4, 4.8]), (533, [5.9, 5.5, 5.3]),
    (537, [3.75, 3.9, 4.05, 4.2]), (539, [3.8, 3.95, 4.1, 4.3, 4.5]), (541, [3.75, 3.9, 4.05, 4.2, 4.35, 4.55]), (543, [3.8, 3.95, 4.1, 4.25, 4.4, 4.6, 4.85, 4.95]),
    (545, [3.75, 3.9, 4.05, 4.2, 4.4, 4.7]), (547, [3.8, 3.95, 4.1, 4.3, 5.15, 4.95]), (549, [3.75, 3.9, 4.15, 4.55]), (556, [3.8, 3.95, 4.15, 4.4, 4.75]),
    (560, [3.75, 3.9, 4.05, 4.2, 4.4, 5.05, 5.2]), (562, [3.8, 3.95, 4.1, 4.3, 4.65, 5.0]), (565, [3.75, 3.9, 4.1, 4.35, 4.55]), (568, [5.7, 4.0]),
    (573, [3.75, 3.9, 4.1, 4.4, 5.9, 5.7, 5.6]), (574, [3.8, 4.0, 4.25, 4.7, 5.45]),
    (672, [3.8, 4.0, 4.2, 4.4, 4.6, 4.85, 5.1, 5.3]), (675, [3.75, 3.9, 4.05, 4.2, 4.35, 4.5, 4.65, 4.8, 5.05, 5.3]),
    (678, [3.8, 3.95, 4.1, 4.25, 4.4, 4.55, 4.7, 4.85, 5.0, 5.15, 5.3]), (681, [3.75, 3.9, 4.05, 4.2, 4.35, 4.5, 4.65, 4.8, 4.95, 5.1, 5.3, 5.5, 5.9, 6.05]),
    (684, [3.8, 3.95, 4.1, 4.25, 4.4, 4.55, 4.7, 4.85, 5.05, 5.45, 5.7]), (687, [3.75, 3.9, 4.05, 4.2, 4.35, 4.55, 4.8, 5.2]),
    (693, [3.75, 3.9, 4.05, 4.2, 4.35, 4.5, 4.65, 4.8, 5.15]), (696, [3.8, 3.95, 4.1, 4.25, 4.4, 4.55, 4.7, 4.85, 5.0, 5.2]),
    (699, [3.75, 3.9, 4.05, 4.2, 4.35, 4.5, 4.65, 4.8, 4.95, 5.1, 5.75, 5.45, 5.8]), (702, [3.8, 3.95, 4.1, 4.25, 4.4, 4.55, 4.7, 4.85, 5.0, 5.15, 5.3, 5.75]),
    (705, [3.75, 3.9, 4.05, 4.2, 4.35, 4.5, 4.65, 4.8, 4.95, 5.2, 5.35, 6.0]), (708, [3.8, 3.95, 4.1, 4.25, 4.4, 4.55, 4.7, 5.0, 5.25]),
    (711, [3.75, 3.9, 4.05, 4.2, 4.45, 5.15]), (715, [3.9, 4.15, 5.75]), (657, [3.75, 3.95, 5.65]), (656, [3.8, 4.1, 4.45, 4.3]),
    (763, [3.8, 3.95, 4.1, 4.65, 5.25, 5.0]), (764, [3.75, 3.85, 4.2, 5.2]), (650, [4.2, 4.0]), (680, [7.45]), (711, [6.65]), (683, [6.15]),
]
cdf_blue_fill = [
    (370, [3.85, 4.0, 4.15, 4.3, 4.45, 4.6]), (374, [3.85, 4.0, 4.15, 4.3, 4.45, 4.6, 4.75, 5.0]), (377, [3.85, 4.0, 4.15, 4.3, 4.45, 4.6, 4.75, 4.9, 5.05]),
    (380, [3.85, 4.0, 4.15, 4.3, 4.45, 4.6, 4.75, 4.9, 5.1]), (383, [3.85, 4.0, 4.15, 4.3, 4.45, 4.6, 4.75, 4.9, 5.05, 5.2]), (386, [3.85, 4.0, 4.15, 4.3, 4.45, 4.6, 4.75, 4.9]),
    (389, [3.85, 4.0, 4.15, 4.3, 4.45, 4.6, 4.75, 4.9, 5.05, 5.2]), (392, [3.85, 4.0, 4.15, 4.3, 4.45, 4.6, 4.75, 4.9, 5.05, 5.2, 5.4]), (395, [3.85, 4.0, 4.15, 4.3, 4.45, 4.6, 4.75, 4.9, 5.05, 5.2, 5.35]),
    (398, [3.85, 4.0, 4.15, 4.3, 4.45, 4.6, 4.75, 4.9, 5.05, 5.2, 5.35]), (401, [3.85, 4.0, 4.15, 4.3, 4.45, 4.6, 4.75, 4.9, 5.1]), (404, [3.85, 4.0, 4.15, 4.3, 4.45, 4.6]),
    (674, [3.85, 4.0, 4.15, 4.3, 4.45, 4.6, 4.75]), (677, [3.85, 4.0, 4.15, 4.3, 4.45, 4.6, 4.75, 4.9]), (680, [3.85, 4.0, 4.15, 4.3, 4.45, 4.6, 4.75, 4.9]), (683, [3.85, 4.0, 4.15, 4.3, 4.45, 4.6, 4.75]),
    (695, [3.85, 4.0, 4.15, 4.3, 4.45, 4.6, 4.75, 4.9]), (698, [3.85, 4.0, 4.15, 4.3, 4.45, 4.6, 4.75, 4.9]), (701, [3.85, 4.0, 4.15, 4.3, 4.45, 4.6, 4.75, 4.9]), (704, [3.85, 4.0, 4.15, 4.3, 4.45, 4.6, 4.75, 4.9]), (707, [3.85, 4.0, 4.15, 4.3, 4.45]),
]
cdf_red = [
    (96, [6.25]), (220, [9.13]), (264, [7.3]), (268, [7.45]), (264, [6.62]), (306, [7.68]), (220, [6.05]),
    (397, [9.4]), (374, [8.3]), (375, [7.87]), (371, [7.53, 7.33]), (384, [7.35]), (382, [7.0]), (390, [7.15]), (376, [7.05, 6.65]),
    (378, [6.65]), (398, [6.8]), (392, [6.4]), (372, [6.4, 6.3]), (387, [6.25]), (392, [6.2]), (396, [6.15, 6.05]), (404, [6.35]),
    (408, [7.6]), (407, [6.65]), (400, [6.05]), (394, [6.2]),
    (573, [7.4]), (517, [6.45, 6.15]),
    (673, [8.4, 8.15, 7.9, 7.55, 7.13, 6.45]), (691, [6.5]), (693, [6.05]), (681, [6.1, 5.95]), (714, [6.35]), (763, [6.4]),
]
cdf_green = [
    (168, [9.93]), (100, [6.27]), (127, [6.72, 6.25]), (130, [6.08]), (147, [6.82]), (154, [6.18]), (176, [6.05]),
    (214, [7.22]), (218, [7.05]), (220, [7.42, 6.38, 6.3, 6.2, 6.1]), (213, [6.55]), (223, [6.3]), (239, [6.17]), (264, [7.38]),
    (266, [6.05]), (271, [6.73]), (273, [6.65]), (282, [6.73, 6.38]), (306, [6.07]),
    (380, [7.72]), (378, [7.6]), (372, [6.9, 6.85]), (369, [6.75]), (373, [6.75]), (390, [7.2, 7.05]), (375, [6.25]), (379, [6.3]),
    (383, [6.35]), (386, [6.4, 6.3]), (389, [6.4]), (364, [6.1]), (367, [6.05]), (397, [6.55]), (401, [6.72]), (403, [6.2, 6.05]),
    (434, [6.25]), (441, [6.97]),
    (501, [7.02]), (508, [6.47]), (502, [6.05]), (527, [6.77]), (548, [8.13]), (551, [7.62]), (549, [7.2, 7.1]), (546, [6.82]),
    (576, [7.42]), (569, [6.3]), (581, [6.8]), (581, [6.13]),
    (676, [7.0, 6.65, 6.5, 6.3, 6.2]), (677, [6.75]), (678, [6.4]), (683, [6.35]), (695, [6.35]), (700, [6.15]), (703, [6.75, 6.72]),
    (704, [7.05]), (707, [6.8]), (713, [8.4, 7.85]), (704, [7.85]), (742, [7.75]), (720, [6.5]), (730, [6.35]), (763, [6.25, 6.3]),
]

# ---- Cd Male
cdm_black = [
    (80, [5.75]), (86, [7.2, 4.95, 4.4, 4.38]), (87, [5.02, 4.8, 4.45]), (88, [4.95, 5.42]), (90, [4.95, 4.97]), (93, [4.7]),
    (97, [4.55]), (99, [4.5]), (101, [4.52, 4.6]), (103, [4.97, 4.9]), (106, [4.95, 4.9]), (109, [6.0, 5.4, 5.33, 4.97, 4.9, 4.43]),
    (110, [4.45, 4.72]), (112, [4.42, 4.62]), (116, [5.6]), (129, [5.62]), (132, [5.33, 5.27, 4.97, 4.8, 4.6]), (133, [4.63, 4.58]),
    (137, [4.68, 4.37]), (138, [5.88, 4.95]), (140, [5.27, 4.45]), (143, [5.38, 5.13, 4.85, 4.38]), (145, [5.3, 4.87, 4.37]), (148, [4.7, 4.38]),
    (151, [4.66]), (156, [4.5]), (157, [4.48]), (158, [4.78]), (172, [5.48]), (177, [4.7]), (179, [4.33]),
    (211, [4.67, 4.55]), (213, [4.38]), (216, [4.38]), (219, [4.83]), (220, [4.83]), (221, [4.33, 4.62]), (222, [4.43, 4.5]),
    (225, [4.55, 4.53]), (228, [4.52]), (230, [5.14, 4.35]), (235, [4.33]), (239, [4.73]), (242, [4.32]), (252, [4.55]),
    (253, [6.49]), (258, [5.15]), (261, [4.48, 4.38]), (263, [4.48]), (265, [4.4]), (270, [5.55, 5.2, 4.9, 4.35]), (273, [5.48]),
    (274, [5.02]), (277, [4.52, 4.34]), (279, [8.13, 4.43, 4.33]), (282, [5.25, 4.35]), (290, [5.25, 5.05, 4.35]), (292, [5.0]),
    (293, [5.68]), (293, [4.45, 4.32]), (296, [5.3, 4.48, 4.38]), (298, [4.62]), (301, [4.65, 5.05]), (304, [5.43, 4.45, 4.34]),
    (305, [4.32, 5.55, 4.55]), (307, [4.55, 4.33, 5.0, 5.35]), (309, [4.7, 4.4]), (313, [5.08, 4.58]), (317, [4.78, 4.71]), (313, [7.2]), (320, [4.62, 4.95]),
    (322, [4.5, 4.45]), (350, [5.12, 5.18]), (355, [5.42, 4.47]), (359, [5.25, 4.7, 4.4]), (362, [5.47, 5.25, 5.87]), (364, [5.57, 4.57, 4.37, 5.1]),
    (366, [5.05, 4.6, 4.55]), (368, [5.25, 5.0, 4.35]), (370, [5.67, 4.57, 4.6, 5.25]), (373, [5.2, 4.55, 4.4]), (375, [4.42, 5.1, 5.25]),
    (381, [5.75, 7.2, 6.8, 5.95, 4.4]), (383, [5.73, 5.1, 4.95, 4.6, 4.35]), (385, [5.87, 4.6, 5.47, 4.9, 4.5]), (387, [5.3, 4.95, 4.5, 4.35]),
    (389, [5.28, 4.93, 4.62, 4.45]), (391, [4.9, 5.15, 4.37]), (394, [4.87, 4.4]), (397, [4.42, 4.7, 5.05]), (399, [4.4]), (402, [4.5]),
    (403, [4.85, 4.38, 5.37]), (405, [5.4, 4.55]), (407, [4.6, 4.4, 6.22, 6.07, 5.4]), (410, [7.27, 4.35, 5.38]), (411, [4.6, 4.82]),
    (414, [4.6, 4.92]), (416, [4.42, 5.9, 5.78]), (419, [4.38, 6.05, 6.18, 4.55]), (420, [5.0, 4.65]), (423, [4.38, 5.13, 5.25, 5.05, 5.2]),
    (425, [4.35, 6.2, 5.65, 4.75]), (428, [4.4, 5.15, 6.1, 5.2]), (430, [4.55, 4.62, 5.87]), (432, [4.42, 5.15, 5.0, 4.8]), (436, [4.65, 4.95]),
    (439, [4.5, 4.6]), (447, [7.05]), (453, [4.42]),
    (492, [5.75, 6.22]), (493, [5.38, 5.05, 4.42]), (495, [4.95, 6.5]), (498, [6.53]), (503, [6.03, 6.0, 5.35, 4.55, 4.33]), (504, [7.53, 5.5, 5.05, 4.95, 4.8]),
    (506, [4.65, 4.6, 6.32, 5.3, 5.25, 4.5, 4.4]), (509, [4.75, 4.35]), (512, [5.2, 4.5, 4.35]), (515, [4.52, 4.4, 5.3]), (516, [5.53, 5.48, 4.55]),
    (518, [6.05, 6.0, 4.45, 4.4]), (519, [5.52, 6.4, 5.0]), (520, [6.05, 6.8, 4.65]), (522, [6.23, 6.05, 4.63, 4.9, 4.5]), (524, [4.85, 6.05, 4.72, 4.35]),
    (526, [6.05, 4.5]), (528, [5.05]), (530, [4.35]), (532, [4.82, 5.65]), (534, [4.35, 5.15]), (537, [5.85, 4.95, 5.45, 4.62, 4.35]),
    (539, [5.3, 4.55, 4.37]), (541, [5.32, 4.9, 5.07, 4.75, 4.42]), (543, [5.3, 5.12, 4.9, 4.7, 4.55, 4.38]), (545, [5.33, 5.05, 4.85, 4.75, 4.5, 4.35]),
    (547, [5.25, 5.22, 4.95, 4.8, 4.65, 4.35]), (549, [4.95, 4.75, 4.6, 4.35]), (551, [5.33, 4.55, 4.35]), (556, [5.32]), (561, [4.85, 4.6]),
    (567, [6.43]), (579, [4.75, 4.35, 4.55]), (584, [4.55, 4.9]), (586, [4.65, 4.45]), (593, [4.85, 4.45, 4.95]), (597, [4.88, 4.95]), (600, [5.0]), (596, [4.85]),
    (609, [4.35, 4.47]), (611, [4.45]),
    (632, [4.85]), (645, [4.4]), (648, [4.35]), (649, [5.35]), (649, [4.83, 4.75, 4.72, 4.6]), (655, [4.7]), (658, [4.3]), (665, [5.9]), (672, [7.15, 4.6, 4.4]),
    (665, [4.35, 4.4]), (666, [4.3, 4.45]), (668, [4.75, 5.6, 4.55]), (670, [4.45, 5.75, 5.35, 5.05]), (672, [4.85, 4.95, 5.5, 5.7, 4.35]),
    (674, [4.5, 5.9, 5.45, 5.2, 5.45, 4.33]), (676, [5.25, 5.0, 4.7, 4.4, 4.33, 4.95]), (678, [7.77, 6.4, 5.5, 6.55, 5.4, 4.6, 4.42]),
    (680, [4.3, 4.5, 4.7, 5.1, 5.85, 6.05]), (682, [5.3, 5.0, 4.75, 4.45, 6.0]), (684, [7.78, 5.85, 5.65, 5.25, 4.9, 4.55, 4.33]), (686, [6.9, 5.1, 4.6, 4.4]),
    (688, [4.65, 5.0, 4.35, 5.3]), (690, [7.63, 4.85, 4.35, 4.55]), (692, [5.05, 4.6, 4.4]), (694, [5.4, 4.75, 4.5]), (696, [4.9, 4.45, 4.65]),
    (698, [5.05, 4.55, 4.33, 4.7]), (700, [4.85, 4.4, 4.7]), (702, [5.15, 4.55, 4.4]), (705, [4.65, 5.05, 4.35]), (707, [4.78, 4.5, 5.4, 5.0]),
    (710, [4.75, 4.4, 4.6]), (712, [5.0, 4.45, 4.85]), (714, [4.35, 4.62]), (716, [4.55, 4.4, 4.82, 4.65]), (718, [4.75, 4.45, 5.25]),
    (720, [4.4, 4.85, 5.0]), (722, [4.55, 4.75, 4.4]), (724, [4.85]), (727, [4.5]), (739, [4.55, 4.42]), (740, [4.75]), (738, [5.88]),
    (735, [6.0]), (736, [4.8, 4.6, 4.38]), (745, [4.48]), (747, [4.4, 4.8]), (751, [4.35, 4.75]), (752, [5.05, 4.9, 4.6]), (755, [4.55, 4.45]), (758, [4.5, 5.1]),
    (762, [4.38]),
]
# thick black at the foot of 2R, 3R and 3L
cdm_black_fill = [
    (365, [4.45, 4.5]), (367, [4.55, 4.4]), (369, [4.5, 4.42]), (371, [4.45, 4.52]), (376, [4.5, 4.38]),
    (380, [4.55, 4.42]), (384, [4.45, 4.38]), (388, [4.5, 4.4]), (392, [4.55, 4.45]), (395, [4.5, 4.38]), (398, [4.48, 4.6]),
    (541, [4.5, 4.62]), (542, [4.4]), (544, [4.45, 4.6]), (546, [4.55, 4.4]), (548, [4.5, 4.42]), (520, [4.42, 4.5]), (522, [4.38]),
    (668, [4.4, 4.35]), (670, [4.38, 4.55, 4.6]), (673, [4.4, 4.55, 4.75]), (675, [4.35, 4.6]), (677, [4.5, 4.62]), (679, [4.35, 4.55]),
    (681, [4.4, 4.6, 4.85]), (683, [4.35, 4.7]), (685, [4.45, 4.55]), (687, [4.33, 4.5, 4.75]), (689, [4.42, 4.6]), (691, [4.35, 4.5]),
    (693, [4.42, 4.55]), (695, [4.35, 4.6]), (697, [4.42, 4.55]), (699, [4.35, 4.5]), (701, [4.45, 4.6]), (703, [4.33, 4.5]),
    (706, [4.42, 4.55]), (709, [4.35, 4.5]), (711, [4.42, 4.55]), (713, [4.35, 4.5]), (715, [4.42, 4.55]),
]
cdm_blue = [
    (86, [6.2, 5.48, 5.29, 4.88, 4.8, 4.5]), (87, [4.75]), (278, [5.22, 4.83]), (279, [5.08]), (307, [4.78]), (384, [6.9]),
    (383, [6.28]), (412, [6.87]), (412, [5.22, 4.32]), (413, [5.02]), (387, [4.6, 4.5]), (547, [6.15, 4.55]), (522, [5.2, 5.55]), (521, [5.0, 5.05]),
    (545, [5.65]), (548, [5.32]), (544, [4.9]), (522, [4.55]), (540, [4.95]), (578, [4.33]), (506, [4.95, 4.9]),
    (687, [7.37]), (692, [7.27]), (681, [6.73]), (687, [6.75]), (682, [6.55]), (681, [6.5]), (715, [5.85]), (714, [5.5]), (715, [5.15, 5.05]),
    (682, [5.85]), (692, [5.8]), (690, [5.55]), (676, [4.95]), (684, [4.85]), (688, [4.85]), (690, [4.8, 4.7]), (682, [4.55]), (686, [4.6]), (694, [4.5]),
    (679, [4.45]), (684, [4.35]), (692, [4.33]), (705, [4.8]), (714, [4.95, 4.9]), (716, [4.82]),
]
cdm_red = [
    (87, [4.37]), (290, [5.26]), (291, [5.15, 4.77]), (306, [6.0, 5.82, 5.65, 5.45]), (278, [4.65]), (306, [4.32, 4.95]), (290, [4.62]),
    (384, [5.42]), (383, [5.17]), (382, [4.93]), (379, [4.62, 4.55]), (412, [5.45, 5.4]), (412, [5.0]),
    (503, [7.85]), (503, [5.38, 5.3]), (503, [4.65]), (517, [5.4]), (546, [6.27, 6.2]), (547, [5.65, 5.45]), (538, [4.85]), (540, [4.6]),
    (578, [5.05]), (578, [4.72, 4.63, 4.5]),
    (681, [6.45]), (682, [5.95, 5.75]), (702, [5.7, 5.65]), (715, [6.6, 6.55]), (702, [5.55]), (715, [6.05, 5.7, 5.55]), (682, [5.15, 5.0]),
    (708, [5.75]), (708, [5.3]), (702, [4.75]), (698, [5.05]), (685, [4.7]), (708, [4.55]),
]
cdm_green = [
    (85, [5.8]), (91, [5.78]), (88, [5.65]), (82, [5.45]), (96, [5.37]), (94, [5.25]), (81, [4.55, 4.48]), (84, [4.33]), (86, [4.6]), (87, [4.73]),
    (92, [4.6]), (95, [4.5]), (98, [4.45]), (95, [4.4]), (103, [4.92]), (114, [4.85, 4.72, 4.62, 4.48, 4.35]), (115, [4.43]), (124, [5.13]),
    (131, [5.03]), (136, [6.0, 4.6]), (139, [5.2, 4.9]), (146, [5.71]), (148, [5.7]), (136, [4.85]), (142, [4.6]), (145, [4.78, 4.65, 4.6]), (160, [6.6]),
    (165, [5.08]), (160, [4.85]), (155, [4.33]), (221, [5.18]), (215, [4.97]), (224, [4.95]), (222, [4.67, 4.6]), (220, [4.45]),
    (260, [6.05]), (262, [5.68]), (260, [5.53]), (261, [5.27]), (268, [4.67]), (271, [4.35]), (292, [5.88]), (295, [5.94]), (293, [5.8]),
    (300, [5.55]), (295, [5.4]), (296, [5.15]), (293, [5.13]), (306, [6.17, 5.65]), (316, [5.25]), (307, [4.97]), (289, [4.68]), (295, [4.8]),
    (302, [4.82]), (306, [4.7]), (310, [4.8]), (307, [4.55]), (350, [5.3]), (351, [4.88]), (356, [4.87]), (389, [5.93]), (386, [5.65]), (389, [5.47]),
    (396, [5.38]), (395, [4.85, 4.9, 5.05]), (385, [5.1]), (378, [4.9]), (390, [4.85]), (398, [4.7]), (404, [4.7, 4.52]), (413, [5.97]),
    (427, [5.2]), (428, [4.95]), (431, [4.65, 4.5]), (447, [6.5]), (414, [4.85]), (420, [4.72]),
    (491, [5.1]), (490, [4.43]), (497, [4.55, 4.8]), (520, [6.7, 4.5]), (517, [5.97, 6.05]), (521, [5.9]), (518, [5.55]), (523, [5.3]),
    (521, [5.03, 4.85]), (515, [5.0]), (510, [4.9]), (527, [4.95]), (545, [7.33]), (547, [6.95]), (537, [5.97]), (545, [6.05]), (557, [6.03]),
    (549, [5.8]), (552, [5.73]), (554, [5.7]), (550, [5.62]), (558, [5.63]), (540, [5.32, 5.25]), (532, [5.35]), (536, [4.85]), (548, [4.95, 4.8]),
    (552, [5.2]), (564, [4.5]), (540, [5.05]), (577, [4.85]), (585, [4.95]), (592, [6.55]), (606, [4.7, 4.55]), (611, [4.8]), (563, [4.45]),
    (633, [4.7]), (646, [5.25, 5.2]), (645, [5.02, 5.0]), (651, [4.38]), (662, [5.33]), (669, [6.45, 6.35, 6.0]), (672, [6.38]), (675, [6.0, 5.85]),
    (680, [7.0]), (694, [7.05, 6.9]), (694, [6.52]), (699, [6.4]), (703, [6.0]), (672, [5.2, 5.05, 4.9, 4.75, 4.55]), (674, [5.15, 4.85, 4.7, 4.6]),
    (676, [5.5, 5.35, 4.8, 4.6, 4.45]), (678, [5.55, 4.8, 4.35]), (680, [5.3, 5.0, 4.85, 4.6, 4.45]), (682, [5.65, 4.65]), (684, [5.6, 5.45, 5.05, 4.8]),
    (688, [5.5, 5.2, 4.65]), (690, [5.45, 5.2, 4.6]), (692, [5.6, 5.35, 5.0]), (694, [4.7, 5.1]), (696, [5.5, 5.3, 4.7, 4.5]), (698, [5.55, 5.45, 4.85]),
    (701, [5.4, 4.9, 4.75]), (704, [5.2, 4.65, 4.45]), (706, [5.45, 5.15, 4.95, 4.4]), (710, [5.55, 5.0]), (713, [5.2, 4.55]), (716, [5.1, 4.75, 4.6]),
    (721, [4.4, 4.35]), (723, [4.45, 4.33]), (742, [5.15, 5.0]), (746, [5.25, 4.95]), (749, [5.03]), (752, [5.5, 5.25, 5.0]), (752, [6.05]),
    (756, [4.55, 4.45]), (761, [4.8]),
]

panel_titles = ["Pb Female", "Pb Male", "Cd Female", "Cd Male"]
panel_ticks = [
    [4.0, 5.0, 6.0, 7.0, 8.0, 9.0, 10.0, 11.0],
    [5.0, 6.0, 7.0, 8.0, 9.0, 10.0],
    [4.0, 5.0, 6.0, 7.0, 8.0, 9.0, 10.0],
    [5.0, 6.0, 7.0, 8.0],
]
panel_data = [
    (pbf_black, pbf_blue + pbf_blue_fill, pbf_red, pbf_green),
    (pbm_black, pbm_blue, pbm_red, pbm_green),
    (cdf_black + cdf_black_fill, cdf_blue + cdf_blue_fill, cdf_red, cdf_green),
    (cdm_black + cdm_black_fill, cdm_blue, cdm_red, cdm_green),
]
threshold = 7.7
chrom_labels = ["X", "2L", "2R", "3R", "3L", "4"]
chrom_centers = [137, 264, 403, 544, 699, 785]
grey_bands = [(67, 191), (335, 471), (622, 770)]

# pixel layout of the four panels: top, bottom, ymin, ymax
layout = [
    (3, 230, 3.28, 11.72),
    (232, 461, 4.51, 10.05),
    (462, 693, 3.5, 10.33),
    (695, 925, 4.2, 8.43),
]
greens = ["#2fae55", "#1f9a5a", "#2fae55", "#1f9a5a"]
sizes = [9, 6.5, 8.5, 6.5]
title_xy = [(86, 22), (88, 245), (88, 477), (90, 708)]

FW, FH = 800, 952
fig = plt.figure(figsize=(FW / 100, FH / 100), dpi=100)


def flatten(cols):
    xs, ys = [], []
    for x, vals in cols:
        for v in vals:
            xs.append(x)
            ys.append(v)
    return xs, ys


for i, (top, bottom, ymin, ymax) in enumerate(layout):
    ax = fig.add_axes([67 / FW, 1 - bottom / FH, (795 - 67) / FW, (bottom - top) / FH])
    ax.set_xlim(67, 795)
    ax.set_ylim(ymin, ymax)
    for a, b in grey_bands:
        ax.axvspan(a, b, color="#e5e5e5", lw=0, zorder=0)
    ax.axhline(threshold, color="#cfcfcf", lw=1, ls=(0, (15.8, 16.6)), dash_capstyle="butt", zorder=1)

    black, blue, red, green = panel_data[i]
    layers = [(black, "#111111"), (blue, "#4a6db5"), (red, "#d8394f"), (green, greens[i])]
    if i == 3:
        # Cd Male has the green mostly under the black
        layers = [(green, greens[i]), (black, "#111111"), (blue, "#4a6db5"), (red, "#d8394f")]
    for cols, col in layers:
        xs, ys = flatten(cols)
        ax.scatter(xs, ys, s=sizes[i], c=col, linewidths=0, zorder=3)

    for s in ax.spines.values():
        s.set_color("#adadad")
        s.set_linewidth(1.1)
        s.set_zorder(4)

    ax.set_yticks(panel_ticks[i])
    ax.set_yticklabels(["%.1f" % t for t in panel_ticks[i]], fontsize=7.5, color="#333333")
    ax.tick_params(axis="y", length=3, width=0.7, color="#888888", pad=2)
    if i == 3:
        ax.set_xticks(chrom_centers)
        ax.set_xticklabels(chrom_labels, fontsize=12, fontweight="bold", fontstyle="italic", family="Liberation Sans")
        ax.tick_params(axis="x", length=0, pad=8)
    else:
        ax.set_xticks([])

    # title position given in figure pixels
    fig.text(title_xy[i][0] / FW, 1 - title_xy[i][1] / FH, panel_titles[i], fontsize=10, fontweight="bold", va="center", zorder=5)

fig.text(9 / FW, 1 - 470 / FH, "-logP", rotation=90, fontsize=10, fontweight="bold", ha="center", va="center")

fig.savefig("out.png", dpi=100)
